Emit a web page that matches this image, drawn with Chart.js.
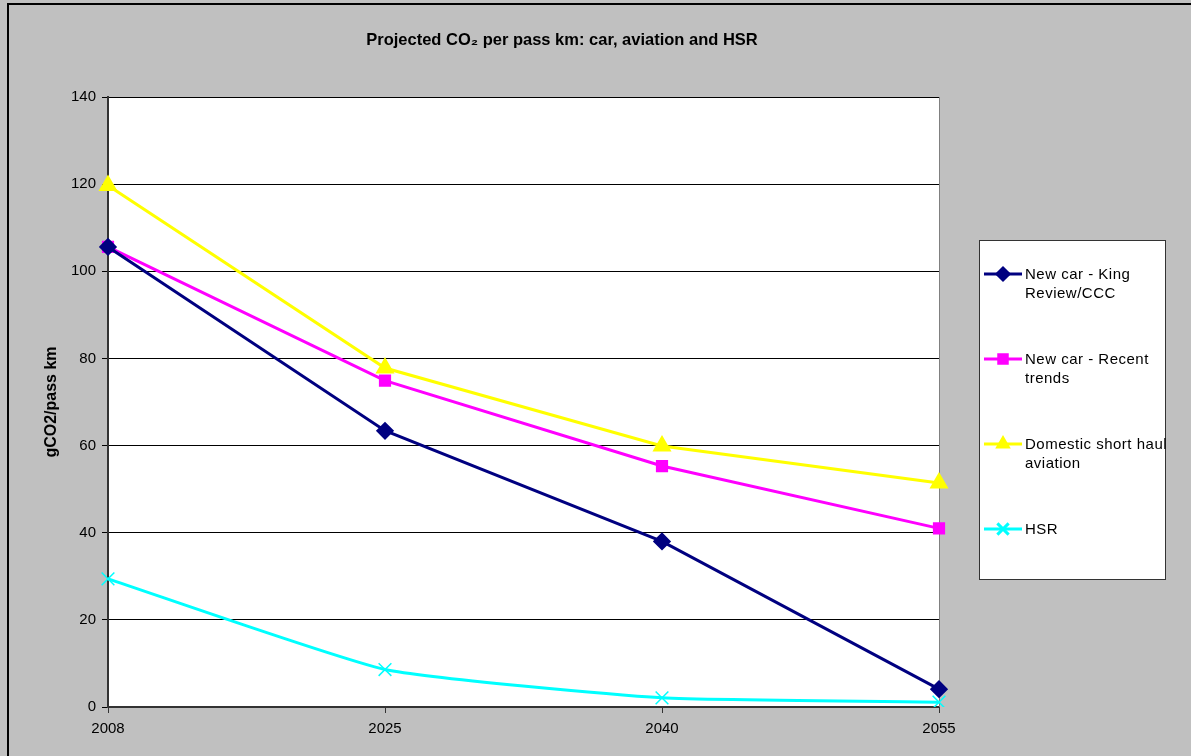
<!DOCTYPE html>
<html>
<head>
<meta charset="utf-8">
<script src="https://cdn.jsdelivr.net/npm/chart.js@4.4.0/dist/chart.umd.min.js"></script>
<style>
    html, body { margin: 0; padding: 0; background: #c0c0c0; overflow: hidden; }
    #wrap { position: relative; width: 1191px; height: 756px; overflow: hidden; }
    canvas { position: absolute; left: 0; top: 0; }
    #legend { position: absolute; left: 979px; top: 240px; width: 187px; height: 340px; background: #fff; border: 1px solid #333; box-sizing: border-box; font-family: "Liberation Sans", Arial, sans-serif; font-size: 15px; letter-spacing: 0.5px; color: #000; }
    .item { position: absolute; left: 0; display: flex; align-items: flex-start; white-space: nowrap; }
    .item canvas { position: static; flex: none; }
    .item span { margin-left: 3px; line-height: 19px; margin-top: -1px; white-space: normal; width: 150px; }
</style>
</head>
<body>
<div id="wrap">
    <canvas id="co2Chart" width="1191" height="756"></canvas>
    <div id="legend"></div>
</div>
<script>
const years = ["2008", "2025", "2040", "2055"];
const kingReview = [105.6, 63.4, 38.0, 4.1];
const recentTrends = [105.6, 74.9, 55.3, 41.0];
const aviation = [119.7, 77.8, 59.9, 51.4];
const hsr = [29.4, 8.6, 2.1, 1.1];
const yTicks = [0, 20, 40, 60, 80, 100, 120, 140];

const seriesNames = [" New car - King Review/CCC", "New car - Recent trends", "Domestic short haul aviation", "HSR"];
const legendTops = [24, 109, 194, 279];

const chartFrame = {
    id: "chartFrame",
    beforeDraw(chart) {
        const { ctx, chartArea } = chart;
        ctx.save();
        // outer frame (left and top edges visible)
        ctx.strokeStyle = "#000";
        ctx.lineWidth = 2;
        ctx.beginPath();
        ctx.moveTo(8, 756);
        ctx.lineTo(8, 4);
        ctx.lineTo(1191, 4);
        ctx.stroke();
        ctx.fillStyle = "#fff";
        ctx.fillRect(chartArea.left, chartArea.top, chartArea.right - chartArea.left, chartArea.bottom - chartArea.top);
        ctx.restore();
    },
    beforeDatasetsDraw(chart) {
        const { ctx, chartArea } = chart;
        ctx.save();
        ctx.strokeStyle = "#808080";
        ctx.lineWidth = 1;
        ctx.beginPath();
        ctx.moveTo(chartArea.right + 0.5, chartArea.top);
        ctx.lineTo(chartArea.right + 0.5, chartArea.bottom);
        ctx.stroke();
        ctx.restore();
    },
    afterDraw(chart) {
        const { ctx } = chart;
        ctx.save();
        ctx.fillStyle = "#000";
        ctx.font = "bold 16.5px 'Liberation Sans', Arial, sans-serif";
        ctx.textAlign = "center";
        ctx.textBaseline = "middle";
        ctx.fillText("Projected CO\u2082 per pass km: car, aviation and HSR", 562, 40);
        ctx.restore();
    }
};

const datasets = [
    { label: seriesNames[0], data: kingReview, borderColor: "#000080", backgroundColor: "#000080", pointStyle: "rectRot", pointRadius: 7, borderWidth: 3, tension: 0 },
    { label: seriesNames[1], data: recentTrends, borderColor: "#ff00ff", backgroundColor: "#ff00ff", pointStyle: "rect", pointRadius: 6.5, borderWidth: 3, tension: 0 },
    { label: seriesNames[2], data: aviation, borderColor: "#ffff00", backgroundColor: "#ffff00", pointStyle: "triangle", pointRadius: 8, borderWidth: 3, tension: 0 },
    { label: seriesNames[3], data: hsr, borderColor: "#00ffff", backgroundColor: "#00ffff", pointStyle: "crossRot", pointRadius: 9, pointBorderWidth: 1.5, borderWidth: 3, tension: 0.15 }
];

const ctx = document.getElementById("co2Chart").getContext("2d");
const co2Chart = new Chart(ctx, {
    type: "line",
    data: { labels: years, datasets: datasets },
    options: {
        responsive: false,
        animation: false,
        layout: { padding: { left: 42, top: 97, right: 252, bottom: 0 } },
        plugins: { legend: { display: false }, tooltip: { enabled: false } },
        scales: {
            x: {
                offset: false,
                grid: { display: true, drawOnChartArea: false, drawTicks: true, tickLength: 6, color: "#333" },
                border: { color: "#333", width: 2 },
                ticks: { color: "#000", font: { family: "'Liberation Sans', Arial", size: 15 }, padding: 7, maxRotation: 0, autoSkip: false },
                afterFit(scale) { scale.height = 49; }
            },
            y: {
                min: 0,
                max: 140,
                afterBuildTicks(scale) { scale.ticks = yTicks.map(v => ({ value: v })); },
                grid: { color: "#000", lineWidth: 1, tickLength: 6 },
                border: { color: "#333", width: 2 },
                ticks: { color: "#000", font: { family: "'Liberation Sans', Arial", size: 15 }, padding: 6 },
                title: { display: true, text: "gCO2/pass km", color: "#000", font: { family: "'Liberation Sans', Arial", size: 16, weight: "bold" }, padding: { top: 0, bottom: 0 } },
                afterFit(scale) { scale.width = 66; }
            }
        }
    },
    plugins: [chartFrame]
});

// legend built from the datasets
const legendBox = document.getElementById("legend");
datasets.forEach((ds, i) => {
    const item = document.createElement("div");
    item.className = "item";
    item.style.top = legendTops[i] + "px";
    const swatch = document.createElement("canvas");
    swatch.width = 42;
    swatch.height = 18;
    const sctx = swatch.getContext("2d");
    sctx.strokeStyle = ds.borderColor;
    sctx.lineWidth = 3;
    sctx.beginPath();
    sctx.moveTo(4, 9);
    sctx.lineTo(42, 9);
    sctx.stroke();
    sctx.fillStyle = ds.backgroundColor;
    sctx.strokeStyle = ds.borderColor;
    const cross = ds.pointStyle === "crossRot";
    Chart.helpers.drawPoint(sctx, { pointStyle: ds.pointStyle, radius: cross ? 8 : 6, borderWidth: cross ? 1.5 : 1, rotation: 0 }, 23, 9);
    const text = document.createElement("span");
    text.textContent = ds.label;
    item.appendChild(swatch);
    item.appendChild(text);
    legendBox.appendChild(item);
});
</script>
</body>
</html>
